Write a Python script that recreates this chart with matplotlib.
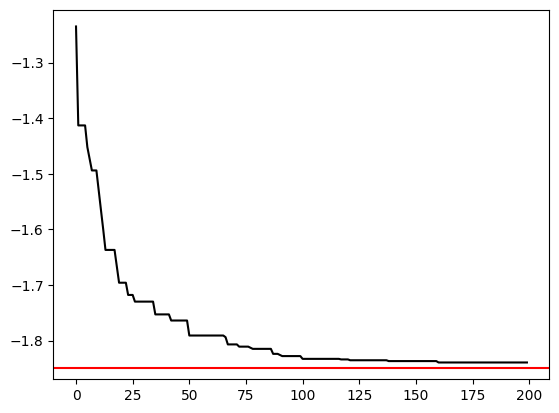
import numpy as np
import matplotlib
matplotlib.use('Agg')
from matplotlib import pyplot as plt

# best value so far: iteration where it improves, and the new value
change_iter = [0, 1, 5, 6, 7, 10, 11, 12, 13, 18, 19, 23, 26, 35, 42, 50,
               66, 67, 72, 77, 78, 87, 90, 91, 100, 117, 121, 138, 160]
change_val = [-1.235, -1.413, -1.452, -1.473, -1.494, -1.530, -1.565, -1.600,
              -1.637, -1.667, -1.696, -1.718, -1.730, -1.753, -1.764, -1.791,
              -1.794, -1.807, -1.811, -1.813, -1.815, -1.824, -1.826, -1.828,
              -1.833, -1.834, -1.8355, -1.837, -1.8395]
n_iter = 200
target = -1.85

best = []
k = 0
for i in range(n_iter):
    if k + 1 < len(change_iter) and i >= change_iter[k + 1]:
        k += 1
    best.append(change_val[k])

fig, ax = plt.subplots(figsize=(6.4, 4.8))
ax.plot(range(n_iter), best, color='black')
ylim = ax.get_ylim()
ax.axhline(target, color='red')
ax.set_ylim(ylim)

plt.savefig('out.png', bbox_inches='tight')
